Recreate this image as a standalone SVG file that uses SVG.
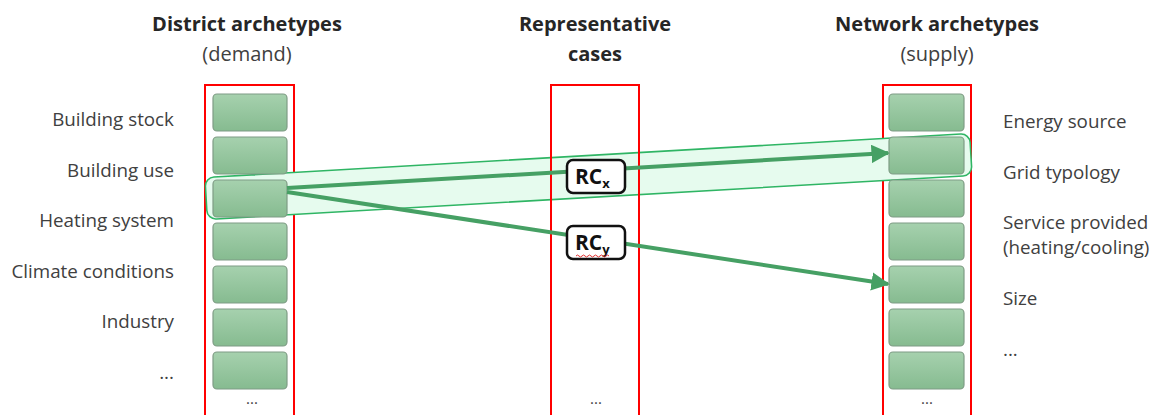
<svg xmlns="http://www.w3.org/2000/svg" width="1160" height="415" viewBox="0 0 1160 415">
  <defs>
    <linearGradient id="boxFill" x1="0" y1="0" x2="0" y2="1">
      <stop offset="0" stop-color="#a6d1ae"/>
      <stop offset="1" stop-color="#86bb90"/>
    </linearGradient>
    <marker id="arrowHead" viewBox="0 0 10 10" refX="9" refY="5" markerWidth="4.6" markerHeight="4.6" markerUnits="strokeWidth" orient="auto">
      <path d="M0,0 L10,5 L0,10 Z" fill="#46a064"/>
    </marker>
    <style>
      .frame { fill: none; stroke: #ff0000; stroke-width: 2; }
      .cell { fill: url(#boxFill); stroke: #7f9c85; stroke-width: 1.2; }
      .head { font-family: "Open Sans", "Liberation Sans", sans-serif; font-size: 20px; font-weight: bold; fill: #262626; text-anchor: middle; }
      .sub { font-family: "Open Sans", "Liberation Sans", sans-serif; font-size: 20px; fill: #404040; text-anchor: middle; }
      .lbl { font-family: "Open Sans", "Liberation Sans", sans-serif; font-size: 18.8px; fill: #404040; }
      .lblL { text-anchor: end; }
      .dots { font-family: "Open Sans", "Liberation Sans", sans-serif; font-size: 15px; fill: #404040; text-anchor: middle; }
      .link { stroke: #46a064; stroke-width: 4; fill: none; marker-end: url(#arrowHead); }
      .tag { fill: #ffffff; stroke: #111111; stroke-width: 2.5; }
      .tagText { font-family: "Open Sans", "Liberation Sans", sans-serif; font-size: 21px; font-weight: bold; fill: #111111; }
    </style>
  </defs>

  <!-- column headings -->
  <g id="headings">
    <text class="head" x="247" y="31">District archetypes</text>
    <text class="sub" x="247" y="61">(demand)</text>
    <text class="head" x="595" y="31">Representative</text>
    <text class="head" x="595" y="61">cases</text>
    <text class="head" x="937" y="31">Network archetypes</text>
    <text class="sub" x="937" y="61">(supply)</text>
  </g>

  <!-- demand-side attribute labels -->
  <g id="demand-labels" class="lbl lblL">
    <text x="174" y="126">Building stock</text>
    <text x="174" y="177">Building use</text>
    <text x="174" y="227">Heating system</text>
    <text x="174" y="278">Climate conditions</text>
    <text x="174" y="328">Industry</text>
    <text x="174" y="379">...</text>
  </g>

  <!-- supply-side attribute labels -->
  <g id="supply-labels" class="lbl">
    <text x="1003" y="128">Energy source</text>
    <text x="1003" y="179">Grid typology</text>
    <text x="1003" y="229">Service provided</text>
    <text x="1003" y="254">(heating/cooling)</text>
    <text x="1003" y="305">Size</text>
    <text x="1003" y="356">...</text>
  </g>

  <!-- outer frames of the demand and supply columns -->
  <rect class="frame" x="205" y="85" width="89" height="340"/>
  <rect class="frame" x="883" y="85" width="88" height="340"/>

  <!-- highlighted pairing band -->
  <g id="pairing-band">
    <rect x="205.5" y="155.5" width="766" height="42" rx="9" transform="rotate(-3.29 588.5 176.5)" fill="#e6fbee" stroke="#2fb564" stroke-width="1.6"/>
  </g>

  <!-- representative cases column -->
  <g id="representative-cases">
    <rect class="frame" x="551" y="85" width="88" height="340"/>
    <text class="dots" x="596" y="404">...</text>
  </g>

  <!-- district archetype cells -->
  <g id="district-archetypes">
    <rect class="cell" x="213" y="94" width="74" height="37" rx="4"/>
    <rect class="cell" x="213" y="137" width="74" height="37" rx="4"/>
    <rect class="cell" x="213" y="180" width="74" height="37" rx="4"/>
    <rect class="cell" x="213" y="223" width="74" height="37" rx="4"/>
    <rect class="cell" x="213" y="266" width="74" height="37" rx="4"/>
    <rect class="cell" x="213" y="309" width="74" height="37" rx="4"/>
    <rect class="cell" x="213" y="352" width="74" height="37" rx="4"/>
    <text class="dots" x="252" y="404">...</text>
  </g>

  <!-- network archetype cells -->
  <g id="network-archetypes">
    <rect class="cell" x="889" y="94" width="75" height="37" rx="4"/>
    <rect class="cell" x="889" y="137" width="75" height="37" rx="4"/>
    <rect class="cell" x="889" y="180" width="75" height="37" rx="4"/>
    <rect class="cell" x="889" y="223" width="75" height="37" rx="4"/>
    <rect class="cell" x="889" y="266" width="75" height="37" rx="4"/>
    <rect class="cell" x="889" y="309" width="75" height="37" rx="4"/>
    <rect class="cell" x="889" y="352" width="75" height="37" rx="4"/>
    <text class="dots" x="927" y="404">...</text>
  </g>

  <!-- connectors -->
  <g id="connectors">
    <line class="link" x1="287" y1="188" x2="888" y2="153"/>
    <line class="link" x1="287" y1="192" x2="888" y2="284"/>
  </g>

  <!-- case tags -->
  <g id="case-x">
    <rect class="tag" x="567" y="160" width="58" height="33" rx="6"/>
    <text class="tagText" x="575" y="184">RC<tspan font-size="13" dy="4">x</tspan></text>
  </g>
  <g id="case-y">
    <rect class="tag" x="567" y="226" width="58" height="33" rx="6"/>
    <text class="tagText" x="575" y="250">RC<tspan font-size="13" dy="4">y</tspan></text>
    <path d="M576,256 q1.5,-2 3,0 t3,0 t3,0 t3,0 t3,0 t3,0 t3,0 t3,0 t3,0 t3,0 t3,0" fill="none" stroke="#e03030" stroke-width="1"/>
  </g>
</svg>
